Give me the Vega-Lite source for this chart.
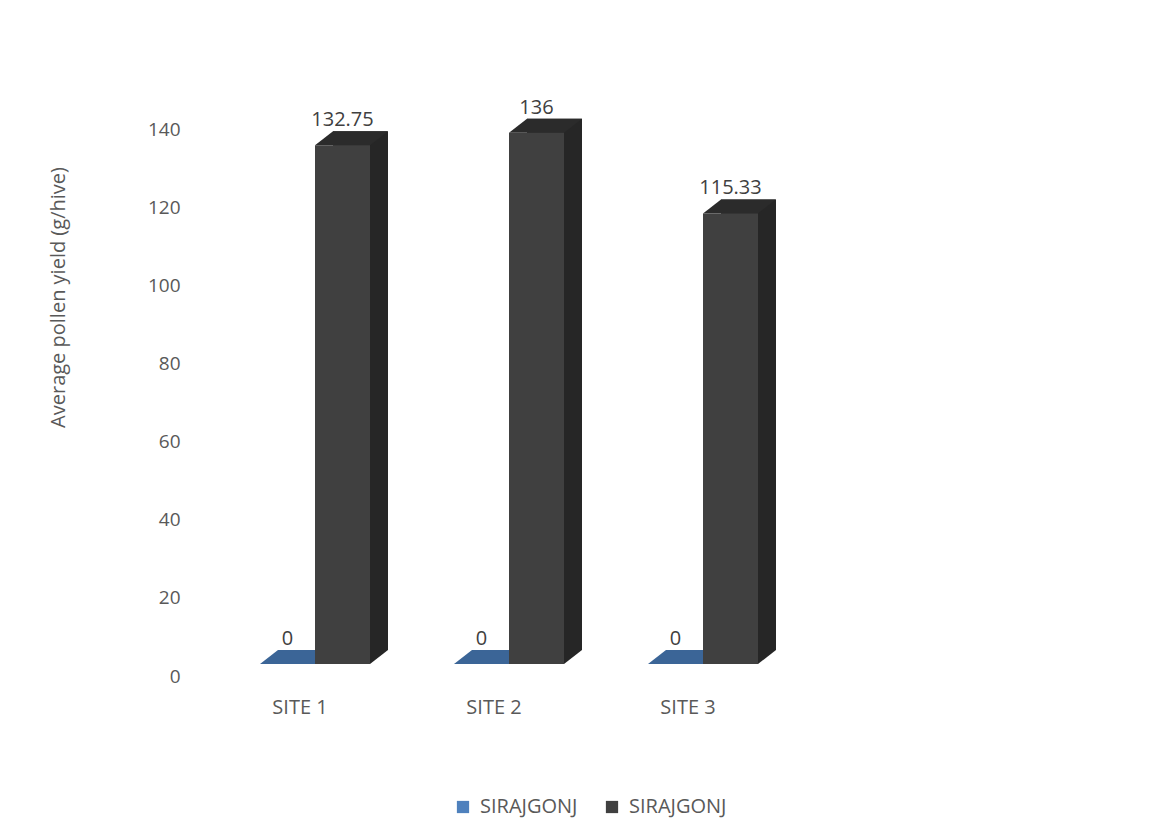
{
  "$schema": "https://vega.github.io/schema/vega-lite/v6.json",
  "autosize": "none",
  "width": 582,
  "height": 547,
  "padding": {"left": 218, "top": 117, "right": 358, "bottom": 172},
  "background": "white",
  "config": {
    "view": {"stroke": null},
    "font": "Open Sans",
    "text": {"font": "Open Sans"}
  },
  "data": {
    "values": [
      {"site": "SITE 1", "series": "s1", "value": 0},
      {"site": "SITE 1", "series": "s2", "value": 132.75},
      {"site": "SITE 2", "series": "s1", "value": 0},
      {"site": "SITE 2", "series": "s2", "value": 136},
      {"site": "SITE 3", "series": "s1", "value": 0},
      {"site": "SITE 3", "series": "s2", "value": 115.33}
    ]
  },
  "encoding": {
    "x": {
      "field": "site",
      "type": "nominal",
      "scale": {"type": "band", "paddingInner": 0, "paddingOuter": 0},
      "axis": {
        "title": null,
        "domain": false,
        "ticks": false,
        "labelAngle": 0,
        "labelOffset": -15,
        "labelPadding": 33,
        "labelFontSize": 20,
        "labelColor": "#595959",
        "labelFont": "Open Sans"
      }
    }
  },
  "layer": [
    {
      "transform": [{"filter": "datum.series === 's2'"}],
      "mark": {"type": "bar", "width": 55, "xOffset": 45.5, "yOffset": -14, "y2Offset": -14, "color": "#262626"},
      "encoding": {
        "y": {
          "field": "value",
          "type": "quantitative",
          "scale": {"domain": [0, 140], "nice": false},
          "axis": {
            "title": "Average pollen yield (g/hive)",
            "values": [0, 20, 40, 60, 80, 100, 120, 140],
            "domain": false,
            "ticks": false,
            "grid": false,
            "labelPadding": 38,
            "labelOffset": 12,
            "labelFontSize": 19,
            "labelColor": "#595959",
            "labelFont": "Open Sans",
            "titleFont": "Open Sans",
            "titleFontSize": 20,
            "titleFontWeight": "normal",
            "titleColor": "#595959",
            "titleX": -160,
            "titleY": 180,
            "titleAlign": "center",
            "titleBaseline": "middle",
            "titleAngle": 270
          }
        }
      }
    },
    {
      "transform": [{"filter": "datum.series === 's2'"}],
      "mark": {"type": "point", "filled": true, "opacity": 1, "strokeWidth": 0, "size": 10000, "xOffset": 27.5, "color": "#2b2b2b",
        "shape": "M -0.55 0 L 0.55 0 L 0.91 -0.28 L -0.19 -0.28 Z"},
      "encoding": {"y": {"field": "value", "type": "quantitative"}}
    },
    {
      "transform": [{"filter": "datum.series === 's2'"}],
      "mark": {"type": "point", "filled": true, "opacity": 1, "strokeWidth": 0, "size": 10000, "xOffset": 27.5, "color": "#262626",
        "shape": "M 0.55 0 L 0.91 -0.28 L 0.55 -0.28 Z"},
      "encoding": {"y": {"datum": 0, "type": "quantitative"}}
    },
    {
      "transform": [{"filter": "datum.series === 's1'"}],
      "mark": {"type": "point", "filled": true, "opacity": 1, "strokeWidth": 0, "size": 10000, "xOffset": -27.5, "color": "#3b6597",
        "shape": "M -0.55 0 L 0.55 0 L 0.91 -0.28 L -0.19 -0.28 Z"},
      "encoding": {"y": {"field": "value", "type": "quantitative"}}
    },
    {
      "transform": [{"filter": "datum.series === 's1'"}],
      "mark": {"type": "bar", "width": 55, "xOffset": -27.5},
      "encoding": {
        "y": {"field": "value", "type": "quantitative"},
        "color": {
          "field": "series",
          "type": "nominal",
          "scale": {"domain": ["s1", "s2"], "range": ["#4f81bd", "#404040"]},
          "legend": {
            "title": null,
            "orient": "none",
            "direction": "horizontal",
            "legendX": 235,
            "legendY": 680,
            "labelExpr": "'SIRAJGONJ'",
            "symbolType": "square",
            "symbolSize": 150,
            "symbolStrokeWidth": 0,
            "labelFontSize": 20,
            "labelFont": "Open Sans",
            "labelColor": "#595959",
            "labelOffset": 7,
            "columnPadding": 24
          }
        }
      }
    },
    {
      "transform": [{"filter": "datum.series === 's2'"}],
      "mark": {"type": "bar", "width": 55, "xOffset": 27.5},
      "encoding": {
        "y": {"field": "value", "type": "quantitative"},
        "color": {"field": "series", "type": "nominal"}
      }
    },
    {
      "transform": [{"filter": "datum.series === 's1'"}],
      "mark": {"type": "text", "xOffset": -27.5, "dy": -19, "baseline": "alphabetic", "fontSize": 20, "color": "#404040", "font": "Open Sans"},
      "encoding": {
        "y": {"field": "value", "type": "quantitative"},
        "text": {"field": "value", "type": "quantitative"}
      }
    },
    {
      "transform": [{"filter": "datum.series === 's2'"}],
      "mark": {"type": "text", "xOffset": 27.5, "dy": -19, "baseline": "alphabetic", "fontSize": 20, "color": "#404040", "font": "Open Sans"},
      "encoding": {
        "y": {"field": "value", "type": "quantitative"},
        "text": {"field": "value", "type": "quantitative"}
      }
    }
  ]
}
